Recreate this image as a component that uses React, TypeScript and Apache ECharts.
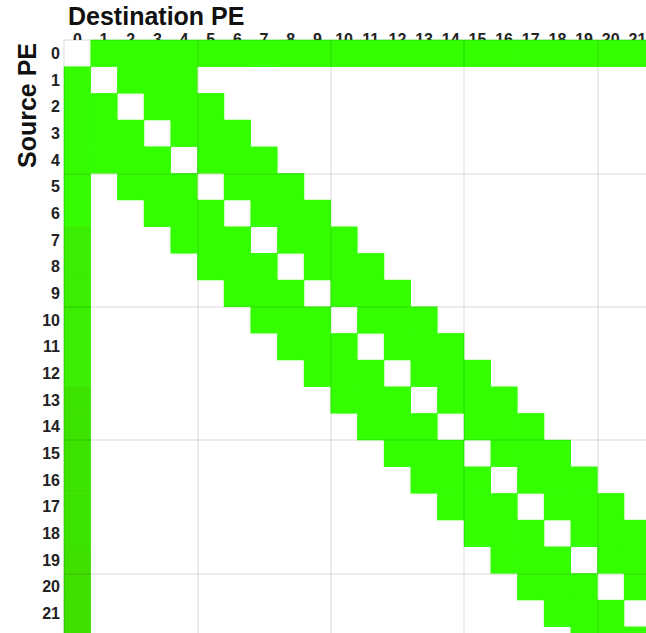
import React, { useEffect, useRef } from "react";
import * as echarts from "echarts";

// PE identifiers shown on both axes
const peLabels: string[] = [
  "0", "1", "2", "3", "4", "5", "6", "7", "8", "9", "10", "11",
  "12", "13", "14", "15", "16", "17", "18", "19", "20", "21", "22",
];

// Neighbour destinations of each source PE (traffic to PE 0 listed separately)
const neighbourDestinations: number[][] = [
  [1, 2, 3, 4, 5, 6, 7, 8, 9, 10, 11, 12, 13, 14, 15, 16, 17, 18, 19, 20, 21, 22],
  [2, 3, 4],
  [1, 3, 4, 5],
  [1, 2, 4, 5, 6],
  [1, 2, 3, 5, 6, 7],
  [2, 3, 4, 6, 7, 8],
  [3, 4, 5, 7, 8, 9],
  [4, 5, 6, 8, 9, 10],
  [5, 6, 7, 9, 10, 11],
  [6, 7, 8, 10, 11, 12],
  [7, 8, 9, 11, 12, 13],
  [8, 9, 10, 12, 13, 14],
  [9, 10, 11, 13, 14, 15],
  [10, 11, 12, 14, 15, 16],
  [11, 12, 13, 15, 16, 17],
  [12, 13, 14, 16, 17, 18],
  [13, 14, 15, 17, 18, 19],
  [14, 15, 16, 18, 19, 20],
  [15, 16, 17, 19, 20, 21],
  [16, 17, 18, 20, 21, 22],
  [17, 18, 19, 21, 22],
  [18, 19, 20, 22],
  [19, 20, 21],
];

// Traffic volume (relative) for neighbour exchanges
const neighbourVolume = 100;

// Traffic volume (relative) each source PE sends back to PE 0
const toRootVolume: (number | null)[] = [
  null, 97, 97, 97, 97, 97, 97, 88, 88, 88, 88, 88, 88,
  80, 80, 80, 80, 80, 80, 77, 77, 77, 77,
];

// Number of PE labels drawn along each axis (the last PE lies past the frame)
const labelledPEs = 22;

const CELL = 26.67;
const GRID_LEFT = 64;
const GRID_TOP = 40;
const FONT = "'Liberation Sans', Arial, sans-serif";

function buildCells(): [number, number, number][] {
  const cells: [number, number, number][] = [];
  neighbourDestinations.forEach((dests, src) => {
    const v = toRootVolume[src];
    if (v !== null) cells.push([0, src, v]);
    dests.forEach((dst) => cells.push([dst, src, neighbourVolume]));
  });
  return cells;
}

export default function App() {
  const ref = useRef<HTMLDivElement>(null);

  useEffect(() => {
    if (!ref.current) return;
    const chart = echarts.init(ref.current, undefined, { renderer: "svg" });
    const n = peLabels.length;
    const span = n * CELL;
    const everyFifth = (i: number) => i % 5 === 0;
    const labelShown = (i: number) => i < labelledPEs;

    chart.setOption({
      animation: false,
      backgroundColor: "#ffffff",
      grid: {
        left: GRID_LEFT,
        top: GRID_TOP,
        width: span,
        height: span,
        containLabel: false,
        outerBoundsMode: "none",
      },
      xAxis: [
        {
          type: "category",
          data: peLabels,
          position: "top",
          z: 0,
          axisLine: { show: false },
          axisTick: { show: false },
          splitLine: { show: false },
          axisLabel: {
            interval: labelShown,
            margin: -7,
            color: "#222",
            fontSize: 16,
            fontWeight: "bold",
            fontFamily: FONT,
          },
        },
        {
          type: "category",
          data: peLabels,
          position: "bottom",
          z: 10,
          axisLine: { show: false },
          axisTick: { show: false },
          axisLabel: { show: false },
          splitLine: {
            show: true,
            interval: everyFifth,
            lineStyle: { color: "rgba(0,0,0,0.075)", width: 2 },
          },
        },
      ],
      yAxis: [
        {
          type: "category",
          data: peLabels,
          inverse: true,
          position: "left",
          z: 0,
          axisLine: { show: false },
          axisTick: { show: false },
          splitLine: { show: false },
          axisLabel: {
            interval: labelShown,
            margin: 4,
            padding: [10, 0, 0, 0],
            color: "#222",
            fontSize: 16,
            fontWeight: "bold",
            fontFamily: FONT,
          },
        },
        {
          type: "category",
          data: peLabels,
          inverse: true,
          position: "right",
          z: 10,
          axisLine: { show: false },
          axisTick: { show: false },
          axisLabel: { show: false },
          splitLine: {
            show: true,
            interval: everyFifth,
            lineStyle: { color: "rgba(0,0,0,0.075)", width: 2 },
          },
        },
      ],
      visualMap: {
        show: false,
        type: "continuous",
        min: 0,
        max: 100,
        dimension: 2,
        seriesIndex: 0,
        inRange: { color: ["#677300", "#33ff00"] },
      },
      graphic: [
        {
          type: "rect",
          z: 1,
          silent: true,
          shape: { x: GRID_LEFT, y: GRID_TOP, width: span + 40, height: span + 40 },
          style: { fill: "#ffffff" },
        },
        {
          type: "text",
          x: 68,
          y: 16,
          z: 5,
          style: {
            text: "Destination PE",
            fill: "#111",
            font: `bold 25px ${FONT}`,
            align: "left",
            verticalAlign: "middle",
          },
        },
        {
          type: "text",
          x: 26.5,
          y: 105.5,
          rotation: Math.PI / 2,
          z: 5,
          style: {
            text: "Source PE",
            fill: "#111",
            font: `bold 25px ${FONT}`,
            align: "center",
            verticalAlign: "middle",
          },
        },
      ],
      series: [
        {
          type: "heatmap",
          xAxisIndex: 0,
          yAxisIndex: 0,
          z: 2,
          data: buildCells(),
          itemStyle: { borderWidth: 0 },
          emphasis: { disabled: true },
          label: { show: false },
        },
      ],
    });

    return () => chart.dispose();
  }, []);

  return (
    <div
      ref={ref}
      style={{ position: "fixed", left: 0, top: 0, width: 646, height: 633 }}
    />
  );
}
